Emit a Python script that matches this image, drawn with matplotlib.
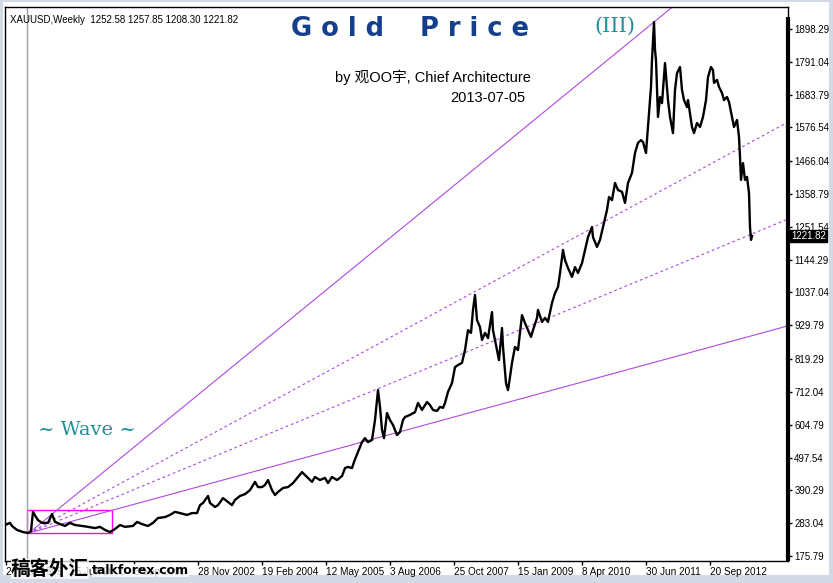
import matplotlib.pyplot as plt
from matplotlib.patches import Rectangle
from matplotlib.transforms import blended_transform_factory

W, H = 833, 583

# weekly closes (week index from left edge, price)
week = [0, 5, 7, 12, 18, 23, 26, 28, 31, 33, 37, 40, 43, 47, 50, 55, 60, 65, 70, 77,
        83, 90, 95, 100, 105, 110, 115, 120, 128, 132, 137, 143, 148, 153, 160, 165, 170, 175, 182, 187,
        192, 195, 198, 203, 205, 210, 213, 218, 223, 227, 230, 235, 240, 245, 250, 253, 257, 260, 263, 267,
        270, 273, 278, 283, 288, 293, 297, 302, 307, 310, 315, 320, 323, 327, 332, 337, 340, 343, 347, 349,
        353, 357, 360, 363, 367, 370, 373, 375, 377, 379, 382, 385, 388, 392, 395, 398, 400, 405, 410, 413,
        417, 422, 425, 428, 432, 435, 438, 440, 443, 447, 450, 453, 457, 460, 463, 466, 468, 470, 472, 475,
        477, 480, 483, 487, 488, 492, 494, 497, 498, 501, 503, 505, 507, 510, 513, 517, 520, 523, 526, 528,
        532, 533, 537, 540, 543, 547, 550, 553, 555, 558, 560, 563, 567, 570, 573, 577, 580, 583, 587, 588,
        592, 595, 598, 602, 604, 607, 610, 613, 617, 620, 623, 627, 630, 633, 636, 638, 641, 643, 646, 647,
        649, 650, 651, 653, 655, 657, 660, 663, 665, 668, 670, 672, 675, 677, 679, 682, 683, 687, 689, 692,
        695, 698, 701, 703, 706, 708, 709, 712, 714, 717, 719, 722, 724, 727, 729, 732, 734, 735, 736, 738,
        740, 742, 744, 745, 746, 747]
close = [277, 284, 274, 261, 254, 251, 257, 320, 303, 293, 284, 284, 284, 313, 287, 280, 274, 284, 277, 274,
         271, 267, 271, 261, 254, 264, 277, 271, 274, 287, 280, 274, 284, 300, 303, 310, 320, 316, 310, 316,
         316, 342, 349, 372, 349, 336, 342, 365, 352, 342, 359, 372, 378, 391, 418, 401, 401, 408, 424, 391,
         375, 385, 398, 401, 414, 434, 450, 434, 418, 434, 424, 431, 414, 434, 424, 437, 463, 467, 463, 483,
         516, 548, 561, 548, 555, 620, 718, 663, 588, 561, 643, 620, 604, 571, 581, 620, 630, 637, 646, 676,
         653, 679, 669, 653, 650, 663, 660, 676, 712, 741, 793, 800, 807, 849, 914, 905, 980, 1029, 947, 924,
         882, 905, 888, 973, 914, 849, 816, 921, 859, 741, 718, 761, 807, 859, 849, 963, 937, 914, 892, 914,
         954, 980, 941, 954, 941, 1003, 1035, 1055, 1100, 1176, 1143, 1117, 1088, 1120, 1101, 1133, 1176, 1218, 1251, 1218,
         1186, 1209, 1251, 1307, 1349, 1339, 1395, 1372, 1366, 1330, 1395, 1428, 1493, 1526, 1535, 1529, 1493, 1578, 1709, 1797,
         1921, 1830, 1797, 1611, 1676, 1656, 1787, 1666, 1611, 1558, 1699, 1754, 1774, 1699, 1666, 1643, 1666, 1578, 1558, 1591,
         1578, 1611, 1666, 1741, 1774, 1764, 1722, 1732, 1709, 1689, 1666, 1676, 1660, 1611, 1578, 1601, 1545, 1480, 1405, 1460,
         1405, 1415, 1362, 1251, 1209, 1221.82]

price_ticks = [175.79, 283.04, 390.29, 497.54, 604.79, 712.04, 819.29, 929.79, 1037.04,
               1144.29, 1251.54, 1358.79, 1466.04, 1576.54, 1683.79, 1791.04, 1898.29]
date_ticks = [1, 65, 129, 193, 257, 321, 385, 449, 513, 577, 641, 705]
date_labels = ['25 Mar 1999', '15 Jun 2000', '6 Sep 2001', '28 Nov 2002', '19 Feb 2004',
               '12 May 2005', '3 Aug 2006', '25 Oct 2007', '15 Jan 2009', '8 Apr 2010',
               '30 Jun 2011', '20 Sep 2012']

# fan: origin at the 1999 low, each line through one point
fan_origin = (24, 251)
fan_through = [(649, 1921), (783, 1594), (783, 1277), (783, 928)]
fan_dashed = [False, True, True, False]
box_weeks = (22, 107)
box_prices = (251, 326)
marker_week = 22
last_close = 1221.82

small = 'Liberation Sans'

fig = plt.figure(figsize=(W / 100, H / 100), dpi=100)
fig.patch.set_facecolor('white')

# window frame around the chart
frame = '#d3dae6'
for x0, y0, w, h in [(0, 0, 3, H), (W - 4, 0, 4, H), (0, 0, W, 2), (0, H - 8, W, 8)]:
    fig.add_artist(Rectangle((x0 / W, 1 - (y0 + h) / H), w / W, h / H,
                             transform=fig.transFigure, color=frame, lw=0, zorder=-1))

ax = fig.add_axes([5 / W, 1 - 561 / H, 783 / W, 554 / H])
ax.set_xlim(0, 783)
ax.set_ylim(159.4, 1970.2)

ax.axvline(marker_week, color='#a0a0a0', lw=1)

xmax = ax.get_xlim()[1]
for (tx, ty), dashed in zip(fan_through, fan_dashed):
    slope = (ty - fan_origin[1]) / (tx - fan_origin[0])
    ax.plot([fan_origin[0], xmax], [fan_origin[1], fan_origin[1] + slope * (xmax - fan_origin[0])],
            color='#b048e0', lw=0.8, ls=(0, (2.5, 2.5)) if dashed else '-')

ax.add_patch(Rectangle((box_weeks[0], box_prices[0]), box_weeks[1] - box_weeks[0],
                       box_prices[1] - box_prices[0], fill=False, edgecolor='#ff00ff', lw=1))

ax.plot(week, close, color='black', lw=1.7, zorder=5)

for s in ax.spines.values():
    s.set_color('black')
    s.set_linewidth(1)
ax.plot([1, 1], [0, (561 - 17) / 554], transform=ax.transAxes, color='black', lw=3,
        clip_on=False, solid_capstyle='butt', zorder=6)

ax.yaxis.tick_right()
ax.set_yticks(price_ticks)
ax.set_yticklabels(['%.2f' % v for v in price_ticks], family=small)
ax.tick_params(axis='y', length=3, width=1, pad=1.5, labelsize=7, colors='black')
ax.set_xticks(date_ticks)
ax.set_xticklabels(date_labels, family=small)
ax.tick_params(axis='x', length=3, width=1, pad=1, labelsize=7.2, colors='black')
for lab in ax.get_xticklabels():
    lab.set_horizontalalignment('left')

tr = blended_transform_factory(ax.transAxes, ax.transData)
ax.text(1.004, last_close, '%.2f' % last_close, transform=tr, color='white', fontsize=7,
        family=small, va='center', ha='left', zorder=10,
        bbox=dict(facecolor='black', edgecolor='black', pad=1.0))

ax.text(0.006, 0.985, 'XAUUSD,Weekly  1252.58 1257.85 1208.30 1221.82', transform=ax.transAxes,
        fontsize=7, family=small, va='top', ha='left')

fig.text(410 / W, 1 - 29 / H, 'G o l d    P r i c e', ha='center', va='center', fontsize=18.5,
         fontweight='heavy', color='#143f8c', family='DejaVu Sans')
fig.text(615 / W, 1 - 26 / H, '(III)', ha='center', va='center', fontsize=15,
         color='#1f8f98', family='DejaVu Serif')
fig.text(335 / W, 1 - 77 / H, 'by 观OO宇, Chief Architecture', ha='left', va='center', fontsize=10.5,
         family=['Liberation Sans', 'Noto Sans CJK SC'])
fig.text(525 / W, 1 - 98 / H, '2013-07-05', ha='right', va='center', fontsize=10.5,
         family='Liberation Sans')
fig.text(87 / W, 1 - 430 / H, '~ Wave ~', ha='center', va='center', fontsize=14,
         color='#1f8f98', family='DejaVu Serif')

# watermark over the first date labels
fig.text(11 / W, 1 - 569 / H, '稿客外汇', ha='left', va='center', fontsize=14, fontweight='bold',
         family='Noto Sans CJK SC', bbox=dict(facecolor='white', edgecolor='none', alpha=0.75, pad=0))
fig.text(92 / W, 1 - 570 / H, 'talkforex.com', ha='left', va='center', fontsize=9, fontweight='bold',
         family='DejaVu Sans', bbox=dict(facecolor='white', edgecolor='none', alpha=0.75, pad=0))

fig.savefig('out.png', dpi=100)
